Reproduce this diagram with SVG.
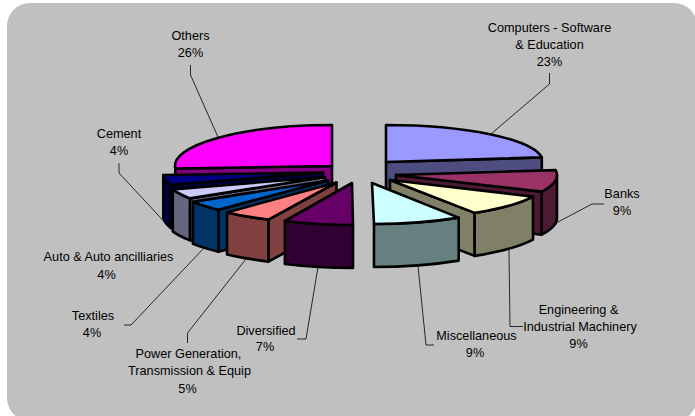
<svg xmlns="http://www.w3.org/2000/svg" width="695" height="416" viewBox="0 0 695 416">
<style>
.o{stroke:#000;stroke-width:2.6;stroke-linejoin:round}
.lbl{font-family:"Liberation Sans",Arial,sans-serif;font-size:12.7px;fill:#000;text-anchor:middle}
.ld{fill:none;stroke:#000;stroke-width:0.8}
</style>
<rect x="0" y="0" width="695" height="416" fill="#fff"/>
<rect x="7" y="3" width="690" height="418" rx="23" ry="23" fill="#C0C0C0"/>

<g id="connectors">
<path class="ld" d="M190.5,65 L190.5,75 L218,137"/>
<path class="ld" d="M549.5,73 L549.5,84 L491,134"/>
<path class="ld" d="M604,204 L592,204 L556,223"/>
<path class="ld" d="M523,326.5 L510,326.5 L509,250"/>
<path class="ld" d="M434,345 L426,345 L418,266"/>
<path class="ld" d="M297,339 L306,339 L318,267"/>
<path class="ld" d="M187.5,343 L187.5,333 L246,259"/>
<path class="ld" d="M124,325 L131,325 L204,248"/>
<path class="ld" d="M119,163 L119,173 L171,229"/>
</g>

<g id="others">
<path class="o" fill="#800080" d="M332,166 L175.3,168.6 L175.3,211.6 L332,209 Z"/>
<path class="o" fill="#FF00FF" d="M332,166 L175.3,168.6 A157,41 0 0 1 332,125 Z"/>
<text class="lbl" x="190.5" y="39.5">Others</text>
<text class="lbl" x="190.5" y="57">26%</text>
</g>

<g id="cement">
<path class="o" fill="#000040" d="M323,172.5 L170.8,184.9 L170.8,227.9 L323,215.5 Z"/>
<path class="o" fill="#000040" d="M170.8,184.9 A160,40 0 0 1 163.3,175 L163.3,218 A160,40 0 0 0 170.8,227.9 Z"/>
<path class="o" fill="#000080" d="M323,172.5 L170.8,184.9 A160,40 0 0 1 163.3,175 Z"/>
<text class="lbl" x="119" y="137.8">Cement</text>
<text class="lbl" x="119" y="155.2">4%</text>
</g>

<g id="auto">
<path class="o" fill="#666680" d="M325,177 L189.9,198.4 L189.9,240.4 L325,219 Z"/>
<path class="o" fill="#666680" d="M189.9,198.4 A160,40 0 0 1 172.8,189.4 L172.8,231.4 A160,40 0 0 0 189.9,240.4 Z"/>
<path class="o" fill="#CCCCFF" d="M325,177 L189.9,198.4 A160,40 0 0 1 172.8,189.4 Z"/>
<text class="lbl" x="108.5" y="261.2">Auto &amp; Auto ancilliaries</text>
<text class="lbl" x="106.5" y="278.5">4%</text>
</g>

<g id="textiles">
<path class="o" fill="#003366" d="M328,180.5 L218.5,209.7 L218.5,251.7 L328,222.5 Z"/>
<path class="o" fill="#003366" d="M218.5,209.7 A160,40 0 0 1 192.9,201.9 L192.9,243.9 A160,40 0 0 0 218.5,251.7 Z"/>
<path class="o" fill="#0066CC" d="M328,180.5 L218.5,209.7 A160,40 0 0 1 192.9,201.9 Z"/>
<text class="lbl" x="93" y="319.5">Textiles</text>
<text class="lbl" x="92" y="336.8">4%</text>
</g>

<g id="power">
<path class="o" fill="#804040" d="M336.5,182.5 L268.4,219.6 L268.4,261.6 L336.5,224.5 Z"/>
<path class="o" fill="#804040" d="M268.4,219.6 A160,41 0 0 1 227,212.4 L227,254.4 A160,41 0 0 0 268.4,261.6 Z"/>
<path class="o" fill="#FF8080" d="M336.5,182.5 L268.4,219.6 A160,41 0 0 1 227,212.4 Z"/>
<text class="lbl" x="188.5" y="357.8">Power Generation,</text>
<text class="lbl" x="189.5" y="375.3">Transmission &amp; Equip</text>
<text class="lbl" x="187.5" y="392.8">5%</text>
</g>

<g id="diversified">
<path class="o" fill="#330033" d="M353,225 A160,42 0 0 1 284.9,221 L284.9,264 A160,42 0 0 0 353,268 Z"/>
<path class="o" fill="#660066" d="M352,183 L353,225 A160,42 0 0 1 284.9,221 Z"/>
<text class="lbl" x="266" y="334.5">Diversified</text>
<text class="lbl" x="265" y="351.2">7%</text>
</g>

<g id="computers">
<path class="o" fill="#4D4D80" d="M386,162 L541.8,157.4 L541.8,200.4 L386,205 Z"/>
<path class="o" fill="#9999FF" d="M386,162 L386,125 A157,37 0 0 1 541.8,157.4 Z"/>
<text class="lbl" x="549.5" y="31.8">Computers - Software</text>
<text class="lbl" x="549.5" y="49">&amp; Education</text>
<text class="lbl" x="549.5" y="66.3">23%</text>
</g>

<g id="banks">
<path class="o" fill="#4D1A33" d="M396,175 L541.7,191.6 L541.7,234.6 L396,218 Z"/>
<path class="o" fill="#4D1A33" d="M557,175 A161,39 0 0 1 541.7,191.6 L541.7,234.6 A161,39 0 0 0 557,218 Z"/>
<path class="o" fill="#993366" d="M396,175 L555.7,170.1 A161,39 0 0 1 541.7,191.6 Z"/>
<text class="lbl" x="622" y="197.8">Banks</text>
<text class="lbl" x="622" y="214.5">9%</text>
</g>

<g id="engineering">
<path class="o" fill="#808066" d="M390,180 L474.7,212.9 L474.7,255.9 L390,223 Z"/>
<path class="o" fill="#808066" d="M533,196.6 A158,39 0 0 1 474.7,212.9 L474.7,255.9 A158,39 0 0 0 533,239.6 Z"/>
<path class="o" fill="#FFFFCC" d="M390,180 L533,196.6 A158,39 0 0 1 474.7,212.9 Z"/>
<text class="lbl" x="578.5" y="313.8">Engineering &amp;</text>
<text class="lbl" x="580" y="331.2">Industrial Machinery</text>
<text class="lbl" x="578.5" y="347.8">9%</text>
</g>

<g id="miscellaneous">
<path class="o" fill="#668080" d="M458.7,217.6 A160,41 0 0 1 374,224 L374,267 A160,41 0 0 0 458.7,260.6 Z"/>
<path class="o" fill="#CCFFFF" d="M372,183 L458.7,217.6 A160,41 0 0 1 374,224 Z"/>
<text class="lbl" x="476.5" y="340.2">Miscellaneous</text>
<text class="lbl" x="475" y="356.8">9%</text>
</g>
</svg>
